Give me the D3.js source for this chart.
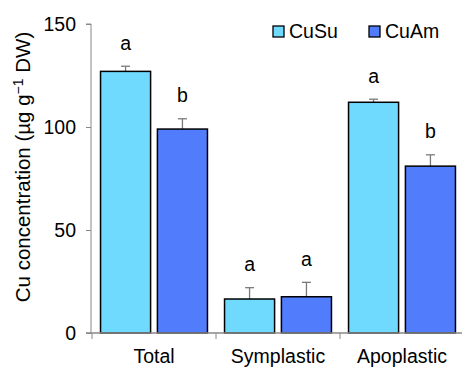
<!DOCTYPE html>
<html><head><meta charset="utf-8">
<script src="https://cdn.jsdelivr.net/npm/d3@7"></script>
<style>body{margin:0;background:#fff}svg{display:block}text{font-family:"Liberation Sans",Arial,sans-serif;fill:#000}</style>
</head><body>
<svg id="c" width="462" height="368"></svg>
<script>
const categories = ["Total", "Symplastic", "Apoplastic"];
const series = ["CuSu", "CuAm"];
const cuSu = [127, 16.5, 112];
const cuAm = [99, 17.6, 81];
const cuSuErr = [2.5, 5.5, 1.5];
const cuAmErr = [5, 7, 5.5];
const cuSuLetters = ["a", "a", "a"];
const cuAmLetters = ["b", "a", "b"];
const yTicks = [0, 50, 100, 150];
const colors = ["#6fdafe", "#517cfc"];

const svg = d3.select("#c");
const FS = 19.5;
const y = d3.scaleLinear().domain([0, 150]).range([333, 24]);
const x = d3.scaleBand().domain(categories).range([92, 464]).paddingInner(0).paddingOuter(0);
const xs = d3.scaleBand().domain(series).range([0, x.bandwidth()]).paddingInner(0.12).paddingOuter(0.15);

const vals = [cuSu, cuAm], errs = [cuSuErr, cuAmErr], lets = [cuSuLetters, cuAmLetters];

// bars
series.forEach((s, si) => {
  const g = svg.append("g");
  categories.forEach((c, ci) => {
    const x0 = x(c) + xs(s);
    const v = vals[si][ci], e = errs[si][ci];
    const cx = x0 + xs.bandwidth() / 2;
    g.append("line").attr("x1", cx).attr("x2", cx).attr("y1", y(v)).attr("y2", y(v + e))
      .attr("stroke", "#7a7a7a").attr("stroke-width", 1.3);
    g.append("line").attr("x1", cx - 4.5).attr("x2", cx + 4.5).attr("y1", y(v + e)).attr("y2", y(v + e))
      .attr("stroke", "#7a7a7a").attr("stroke-width", 1.3);
    g.append("rect").attr("x", x0).attr("y", y(v)).attr("width", xs.bandwidth()).attr("height", y(0) - y(v))
      .attr("fill", colors[si]).attr("stroke", "#000").attr("stroke-width", 1.5);
    g.append("text").attr("x", cx).attr("y", y(v + e) - 16.5).attr("text-anchor", "middle")
      .attr("font-size", FS).text(lets[si][ci]);
  });
});

// y axis
const ya = svg.append("g").attr("transform", "translate(91,0)")
  .call(d3.axisLeft(y).tickValues(yTicks).tickSize(5).tickPadding(10).tickFormat(d3.format("d")));
ya.select(".domain").attr("stroke", "#888").attr("d", `M-5,${y(150)}H0V${y(0)}`);
ya.selectAll(".tick line").attr("stroke", "#888");
ya.selectAll(".tick text").attr("font-size", FS).attr("font-family", "Liberation Sans, Arial, sans-serif").attr("fill", "#000");

// x axis
const xa = svg.append("g").attr("transform", `translate(0,${y(0)})`);
xa.append("line").attr("x1", 86).attr("x2", 462).attr("y1", 0).attr("y2", 0).attr("stroke", "#888").attr("stroke-width", 1.3);
[92, 216, 340].forEach(t => xa.append("line").attr("x1", t).attr("x2", t).attr("y1", 0).attr("y2", 6).attr("stroke", "#888"));
categories.forEach(c => xa.append("text").attr("x", x(c) + x.bandwidth() / 2).attr("y", 30)
  .attr("text-anchor", "middle").attr("font-size", FS).text(c));

// y label
svg.append("text").attr("transform", "translate(30,167) rotate(-90)").attr("text-anchor", "middle")
  .attr("font-size", 20.5).html('Cu concentration (µg g<tspan dy="-7" font-size="14">−1</tspan><tspan dy="7"> DW)</tspan>');

// legend
const lg = svg.append("g");
[[273, "CuSu"], [369, "CuAm"]].forEach(([lx, name], i) => {
  lg.append("rect").attr("x", lx).attr("y", 26).attr("width", 11).attr("height", 11)
    .attr("fill", colors[i]).attr("stroke", "#000").attr("stroke-width", 1.3);
  lg.append("text").attr("x", lx + 16).attr("y", 38).attr("font-size", FS).text(name);
});
</script>
</body></html>
